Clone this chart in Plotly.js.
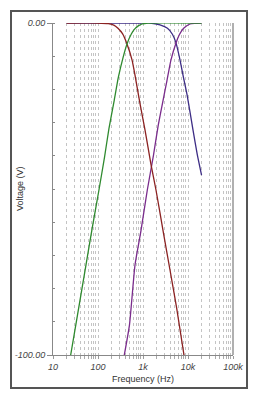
<!DOCTYPE html>
<html>
<head>
<meta charset="utf-8">
<script src="https://cdn.plot.ly/plotly-3.0.1.min.js"></script>
<style>html,body{margin:0;padding:0;background:#fff;}#chart{width:257px;height:400px;}</style>
</head>
<body>
<div id="chart"></div>
<script>
// Frequencies in Hz, levels in dB
const redFreq   = [20, 100, 170, 230, 278, 350, 441, 570, 664, 850, 1107, 1500, 1944, 2800, 3981, 5600, 8147];
const redDb     = [0, 0, -0.2, -0.7, -1.6, -3.2, -6.3, -11.1, -15.7, -24, -32.2, -42.5, -50.3, -62.7, -74.4, -85.9, -100];

const greenFreq = [24.7, 35, 54, 75, 105, 140, 175, 230, 283, 359, 441, 550, 664, 800, 950, 1300, 20000];
const greenDb   = [-100, -88, -72.9, -61.5, -50.3, -40.3, -31.8, -23.2, -16.4, -10.5, -6.3, -3.3, -1.7, -0.8, -0.3, 0, 0];

const purpleFreq = [384, 500, 664, 900, 1247, 1700, 2188, 2800, 3400, 4188, 5412, 6500, 8000, 11080, 14000, 20000];
const purpleDb   = [-100, -91, -72.9, -62.6, -50.3, -40, -30.7, -23.2, -17.4, -11.1, -6.0, -3.4, -1.6, -0.3, -0.1, 0];

const navyFreq = [20, 1000, 1432, 2387, 3500, 4500, 5412, 6637, 7743, 9500, 12900, 16000, 20000];
const navyDb   = [0, 0, 0, -0.6, -1.6, -3.4, -6.0, -11.1, -15.7, -21.5, -32.2, -39.5, -45.8];

const xTickVals = [10, 100, 1000, 10000, 100000];
const xTickText = ["10", "100", "1k", "10k", "100k"];
const yTickVals = [0, -100];
const yTickText = ["0.00", "-100.00"];

const lineW = 1.3;
const traces = [
  {x: navyFreq, y: navyDb, color: '#3d2d85'},
  {x: purpleFreq, y: purpleDb, color: '#7a2c8c'},
  {x: redFreq, y: redDb, color: '#8b2222'},
  {x: greenFreq, y: greenDb, color: '#2f8a2f'}
].map(t => ({
  x: t.x, y: t.y, type: 'scatter', mode: 'lines',
  line: {color: t.color, width: lineW, shape: 'spline', smoothing: 0.5},
  hoverinfo: 'skip', showlegend: false
}));

const tickFont = {family: 'Liberation Sans, Arial, sans-serif', size: 9, color: '#444', style: 'italic'};
const titleFont = {family: 'Liberation Sans, Arial, sans-serif', size: 9, color: '#333'};

const layout = {
  width: 257, height: 400,
  margin: {l: 53, r: 24, t: 23, b: 45, pad: 0},
  paper_bgcolor: '#fff', plot_bgcolor: '#fff',
  showlegend: false,
  xaxis: {
    type: 'log', range: [1, 5],
    tickvals: xTickVals, ticktext: xTickText,
    tickfont: tickFont,
    ticks: 'outside', ticklen: 3, tickcolor: '#999',
    showgrid: true, gridcolor: '#c4c4c4', griddash: 'dot', gridwidth: 1,
    minor: {dtick: 'D1', showgrid: true, gridcolor: '#c4c4c4', griddash: 'dot', gridwidth: 1, ticks: 'outside', ticklen: 3, tickcolor: '#aaa'},
    showline: true, linecolor: '#888', linewidth: 1,
    zeroline: false,
    title: {text: 'Frequency (Hz)', font: titleFont, standoff: 4}
  },
  yaxis: {
    range: [-100, 0],
    tickvals: yTickVals, ticktext: yTickText,
    tickfont: tickFont,
    ticks: 'outside', ticklen: 5, tickcolor: '#888',
    showgrid: false, zeroline: false,
    minor: {dtick: 10, ticks: 'inside', ticklen: 2, tickcolor: '#888', showgrid: false},
    showline: true, linecolor: '#888', linewidth: 1
  },
  annotations: [
    {text: 'Voltage (V)', xref: 'paper', yref: 'paper', x: -0.183, y: 0.5, textangle: -90,
     showarrow: false, font: titleFont, xanchor: 'center', yanchor: 'middle'}
  ],
  shapes: [
    {type: 'line', xref: 'paper', yref: 'paper', x0: 1, x1: 1, y0: 0, y1: 1, line: {color: '#b0b0b0', width: 2}},
    {type: 'rect', xref: 'paper', yref: 'paper', x0: -0.2333, x1: 1.0778, y0: -0.0994, y1: 1.0361, line: {color: '#555', width: 2}, fillcolor: 'rgba(0,0,0,0)', layer: 'below'}
  ]
};

Plotly.newPlot('chart', traces, layout, {staticPlot: true, displayModeBar: false});
</script>
</body>
</html>
